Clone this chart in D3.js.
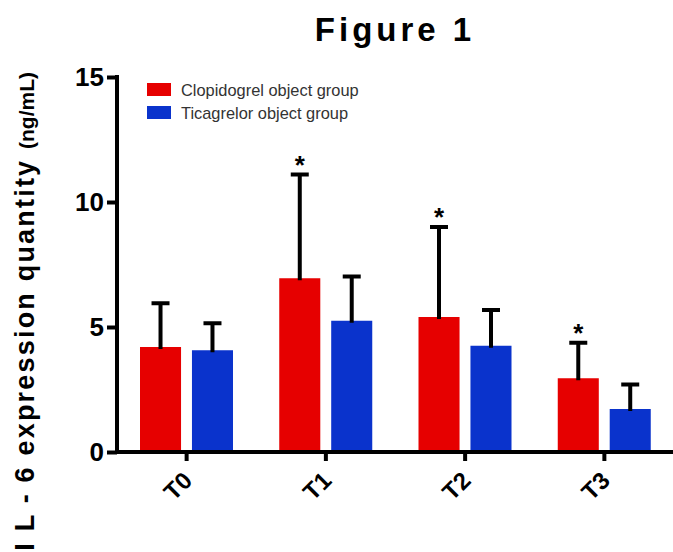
<!DOCTYPE html>
<html>
<head>
<meta charset="utf-8">
<script src="https://cdn.jsdelivr.net/npm/d3@7"></script>
<style>
  body { margin: 0; background: #fff; }
  svg { display: block; font-family: "Liberation Sans", Arial, sans-serif; }
</style>
</head>
<body>
<div class="chart"></div>
<script>
// data
var categories = ["T0", "T1", "T2", "T3"];
var groups = ["Clopidogrel object group", "Ticagrelor object group"];
var clopidogrelMean = [4.2, 6.95, 5.4, 2.95];
var clopidogrelSD = [1.75, 4.15, 3.6, 1.42];
var ticagrelorMean = [4.07, 5.25, 4.25, 1.72];
var ticagrelorSD = [1.08, 1.77, 1.43, 0.98];
var significant = [false, true, true, true]; // star over clopidogrel bar
var yTicks = [0, 5, 10, 15];

var width = 673, height = 552;
var colors = ["#e60000", "#0a33cc"];

var svg = d3.select(".chart")
    .append("svg")
    .attr("width", width)
    .attr("height", height);

var x0 = d3.scaleBand()
    .domain(categories)
    .range([117, 674])
    .paddingInner(0)
    .paddingOuter(0);

var x1 = d3.scaleBand()
    .domain(groups)
    .range([23, 116])
    .paddingInner(0.21);

var y = d3.scaleLinear()
    .domain([0, 15])
    .range([452, 77]);

// build rows for drawing
var rows = [];
categories.forEach(function (c, i) {
    rows.push({ cat: c, key: groups[0], mean: clopidogrelMean[i], sd: clopidogrelSD[i], color: colors[0] });
    rows.push({ cat: c, key: groups[1], mean: ticagrelorMean[i], sd: ticagrelorSD[i], color: colors[1] });
});

function cx(d) { return x0(d.cat) + x1(d.key) + x1.bandwidth() / 2; }

// bars
svg.append("g")
    .selectAll("rect")
    .data(rows)
    .enter().append("rect")
    .attr("x", function (d) { return x0(d.cat) + x1(d.key); })
    .attr("y", function (d) { return y(d.mean); })
    .attr("width", x1.bandwidth())
    .attr("height", function (d) { return y(0) - y(d.mean); })
    .attr("fill", function (d) { return d.color; });

// error bars (upper only)
var err = svg.append("g")
    .attr("stroke", "#000")
    .attr("stroke-width", 4);

err.selectAll("line.v")
    .data(rows)
    .enter().append("line")
    .attr("class", "v")
    .attr("x1", cx)
    .attr("x2", cx)
    .attr("y1", function (d) { return y(d.mean) + 2; })
    .attr("y2", function (d) { return y(d.mean + d.sd); });

err.selectAll("line.cap")
    .data(rows)
    .enter().append("line")
    .attr("class", "cap")
    .attr("x1", function (d) { return cx(d) - 9; })
    .attr("x2", function (d) { return cx(d) + 9; })
    .attr("y1", function (d) { return y(d.mean + d.sd); })
    .attr("y2", function (d) { return y(d.mean + d.sd); });

// significance stars
svg.append("g")
    .selectAll("text")
    .data(rows.filter(function (d, i) { return d.key === groups[0] && significant[i / 2]; }))
    .enter().append("text")
    .attr("x", cx)
    .attr("y", function (d) { return y(d.mean + d.sd) - 1; })
    .attr("text-anchor", "middle")
    .style("font-size", "26px")
    .style("font-weight", "bold")
    .text("*");

// axes
var xAxis = svg.append("g")
    .attr("transform", "translate(0," + y(0) + ")")
    .call(d3.axisBottom(x0).tickSize(9).tickSizeOuter(0));
xAxis.select(".domain").attr("stroke-width", 4).attr("d", "M115,0H673");
xAxis.selectAll(".tick line").attr("stroke-width", 4);
xAxis.selectAll(".tick text")
    .attr("x", 0)
    .attr("y", 0)
    .attr("dy", "0")
    .attr("text-anchor", "end")
    .attr("transform", "translate(7,30) rotate(-45)")
    .style("font-size", "24px")
    .style("font-weight", "bold")
    .attr("fill", "#000");

var yAxis = svg.append("g")
    .attr("transform", "translate(117,0)")
    .call(d3.axisLeft(y).tickValues(yTicks).tickSize(10).tickSizeOuter(0).tickPadding(3));
yAxis.select(".domain").attr("stroke-width", 4).attr("d", "M0,75V454");
yAxis.selectAll(".tick line").attr("stroke-width", 4);
yAxis.selectAll(".tick text")
    .style("font-size", "26px")
    .style("font-weight", "bold")
    .attr("fill", "#000");

// title
svg.append("text")
    .attr("x", 395)
    .attr("y", 41)
    .attr("text-anchor", "middle")
    .style("font-size", "33px")
    .style("font-weight", "bold")
    .style("letter-spacing", "4px")
    .text("Figure 1");

// y label
var yl = svg.append("text")
    .attr("transform", "translate(34,72) rotate(-90)")
    .attr("text-anchor", "end");
yl.append("tspan")
    .style("font-size", "27px")
    .style("font-weight", "bold")
    .style("letter-spacing", "2.2px")
    .text("I L - 6 expression quantity ");
yl.append("tspan")
    .style("font-size", "21px")
    .style("font-weight", "bold")
    .text("(ng/mL)");

// legend
var legend = svg.append("g")
    .selectAll("g")
    .data(groups)
    .enter().append("g")
    .attr("transform", function (d, i) { return "translate(147," + (83 + i * 23) + ")"; });
legend.append("rect")
    .attr("width", 24)
    .attr("height", 13)
    .attr("fill", function (d, i) { return colors[i]; });
legend.append("text")
    .attr("x", 34)
    .attr("y", 13)
    .style("font-size", "16.4px")
    .attr("fill", "#333")
    .text(function (d) { return d; });
</script>
</body>
</html>
